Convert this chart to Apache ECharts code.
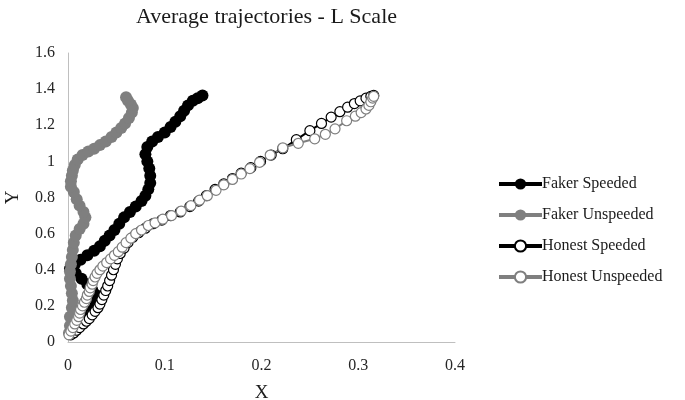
<!DOCTYPE html>
<html>
<head>
<meta charset="utf-8">
<script src="https://cdn.jsdelivr.net/npm/echarts@6/dist/echarts.min.js"></script>
<style>html,body{margin:0;padding:0;background:#fff}#c{width:685px;height:400px}</style>
</head>
<body>
<div id="c"></div>
<script>
var titleText = 'Average trajectories - L Scale';
var seriesNames = ['Faker Speeded', 'Faker Unspeeded', 'Honest Speeded', 'Honest Unspeeded'];

var fakerSpeeded = [
  [0.004,0.05],[0.009,0.08],[0.014,0.11],[0.019,0.14],[0.024,0.17],[0.028,0.20],[0.030,0.23],
  [0.029,0.26],[0.025,0.29],[0.020,0.32],[0.014,0.35],[0.008,0.38],[0.002,0.405],[0.007,0.43],
  [0.013,0.455],[0.020,0.48],[0.027,0.505],[0.033,0.53],[0.038,0.56],[0.043,0.59],[0.048,0.62],
  [0.053,0.655],[0.058,0.69],[0.064,0.72],[0.070,0.75],[0.076,0.78],[0.080,0.81],[0.083,0.845],
  [0.085,0.88],[0.085,0.92],[0.084,0.96],[0.082,1.00],[0.080,1.04],[0.082,1.08],[0.087,1.11],
  [0.093,1.135],[0.100,1.16],[0.106,1.19],[0.111,1.22],[0.116,1.25],[0.120,1.28],[0.124,1.31],
  [0.129,1.335],[0.134,1.35],[0.139,1.365]
];
var fakerUnspeeded = [
  [0.001,0.05],[0.002,0.09],[0.002,0.14],[0.004,0.19],[0.005,0.23],[0.004,0.27],[0.003,0.31],
  [0.002,0.35],[0.002,0.39],[0.003,0.43],[0.004,0.47],[0.005,0.51],[0.006,0.55],[0.008,0.59],
  [0.012,0.625],[0.016,0.655],[0.018,0.69],[0.016,0.72],[0.012,0.755],[0.009,0.79],[0.006,0.83],
  [0.003,0.86],[0.003,0.89],[0.004,0.92],[0.005,0.95],[0.007,0.98],[0.010,1.01],[0.015,1.035],
  [0.021,1.055],[0.027,1.07],[0.033,1.09],[0.039,1.11],[0.045,1.135],[0.050,1.16],[0.055,1.185],
  [0.059,1.21],[0.063,1.24],[0.066,1.27],[0.067,1.295],[0.065,1.315],[0.062,1.335],[0.060,1.355]
];
var honestSpeeded = [
  [0.003,0.04],[0.006,0.05],[0.009,0.065],[0.012,0.08],[0.016,0.10],[0.019,0.115],[0.022,0.13],
  [0.025,0.15],[0.028,0.17],[0.031,0.19],[0.033,0.21],[0.035,0.235],[0.037,0.26],[0.039,0.285],
  [0.041,0.31],[0.043,0.34],[0.045,0.37],[0.047,0.40],[0.049,0.43],[0.051,0.46],[0.054,0.49],
  [0.058,0.52],[0.062,0.55],[0.067,0.58],[0.073,0.605],[0.080,0.63],[0.088,0.655],[0.097,0.675],
  [0.106,0.70],[0.116,0.72],[0.126,0.75],[0.135,0.78],[0.143,0.81],[0.152,0.845],[0.161,0.875],
  [0.170,0.905],[0.179,0.935],[0.189,0.965],[0.199,1.00],[0.210,1.035],[0.222,1.07],[0.236,1.12],
  [0.250,1.17],[0.262,1.21],[0.272,1.245],[0.281,1.275],[0.289,1.30],[0.296,1.32],[0.302,1.335],
  [0.308,1.35],[0.313,1.36],[0.316,1.365]
];
var honestUnspeeded = [
  [0.001,0.04],[0.003,0.06],[0.005,0.08],[0.007,0.10],[0.009,0.12],[0.011,0.14],[0.012,0.16],
  [0.013,0.18],[0.015,0.20],[0.017,0.22],[0.019,0.24],[0.020,0.26],[0.022,0.28],[0.023,0.30],
  [0.025,0.32],[0.026,0.34],[0.028,0.36],[0.030,0.38],[0.033,0.40],[0.036,0.42],[0.040,0.44],
  [0.044,0.46],[0.048,0.48],[0.052,0.50],[0.056,0.525],[0.060,0.55],[0.065,0.575],[0.070,0.60],
  [0.076,0.62],[0.083,0.645],[0.090,0.66],[0.098,0.68],[0.107,0.70],[0.117,0.725],[0.127,0.755],
  [0.136,0.785],[0.144,0.81],[0.153,0.84],[0.161,0.87],[0.170,0.90],[0.179,0.93],[0.188,0.96],
  [0.198,0.995],[0.209,1.035],[0.222,1.075],[0.238,1.10],[0.255,1.125],[0.266,1.15],[0.276,1.18],
  [0.288,1.225],[0.297,1.25],[0.303,1.27],[0.308,1.29],[0.311,1.31],[0.313,1.33],[0.315,1.35],[0.316,1.36]
];

var xTicks = {min: 0, max: 0.4, interval: 0.1};
var yTicks = {min: 0, max: 1.6, interval: 0.2};

var BLACK = '#000000', GRAY = '#7f7f7f';
var serif = '"Liberation Serif", "Times New Roman", serif';

function filled(name, data, color) {
  return {
    name: name, type: 'line', data: data, symbol: 'circle', symbolSize: 12,
    lineStyle: {color: color, width: 4}, itemStyle: {color: color, borderColor: color, borderWidth: 0},
    animation: false, z: 2
  };
}
function hollow(name, data, color) {
  return {
    name: name, type: 'line', data: data, symbol: 'circle', symbolSize: 10,
    lineStyle: {color: color, width: 2}, itemStyle: {color: '#ffffff', borderColor: color, borderWidth: 1.2},
    animation: false, z: 3
  };
}

var chart = echarts.init(document.getElementById('c'), null, {renderer: 'canvas'});
chart.setOption({
  backgroundColor: '#ffffff',
  title: {text: titleText, left: 131, top: 1,
    textStyle: {fontFamily: serif, fontSize: 22, fontWeight: 'normal', color: '#1a1a1a'}},
  grid: {left: 68, right: 230, top: 53, bottom: 58, containLabel: false, outerBoundsMode: 'none'},
  xAxis: {type: 'value', min: xTicks.min, max: xTicks.max, interval: xTicks.interval,
    name: 'X', nameLocation: 'middle', nameGap: 42,
    nameTextStyle: {fontFamily: serif, fontSize: 19, color: '#1a1a1a'},
    axisLine: {show: true, lineStyle: {color: '#bfbfbf', width: 1}}, axisTick: {show: false},
    splitLine: {show: false},
    axisLabel: {fontFamily: serif, fontSize: 16, color: '#262626', margin: 16}},
  yAxis: {type: 'value', min: yTicks.min, max: yTicks.max, interval: yTicks.interval,
    name: 'Y', nameLocation: 'middle', nameGap: 45,
    nameTextStyle: {fontFamily: serif, fontSize: 19, color: '#1a1a1a'},
    nameRotate: 90,
    axisLine: {show: true, lineStyle: {color: '#bfbfbf', width: 1}}, axisTick: {show: false},
    splitLine: {show: false},
    axisLabel: {fontFamily: serif, fontSize: 16, color: '#262626', margin: 13}},
  legend: {orient: 'vertical', left: 497, top: 176, padding: 0, itemWidth: 43, itemHeight: 14, itemGap: 15,
    data: seriesNames, lineStyle: {width: 4},
    textStyle: {fontFamily: serif, fontSize: 16, color: '#1a1a1a', padding: [0,0,0,-5]}},
  series: [
    filled(seriesNames[0], fakerSpeeded, BLACK),
    filled(seriesNames[1], fakerUnspeeded, GRAY),
    hollow(seriesNames[2], honestSpeeded, BLACK),
    hollow(seriesNames[3], honestUnspeeded, GRAY)
  ]
});
</script>
</body>
</html>
